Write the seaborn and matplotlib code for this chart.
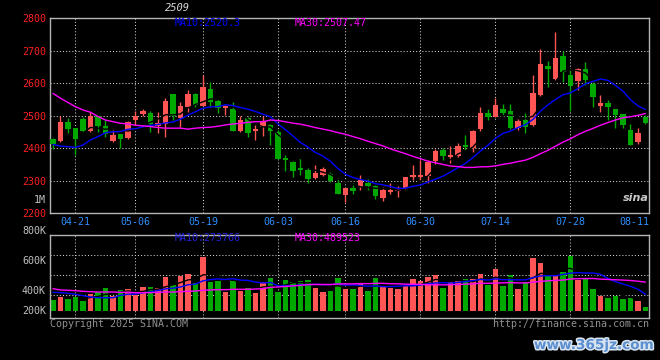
import numpy as np
import pandas as pd
import matplotlib
matplotlib.use("Agg")
import matplotlib.pyplot as plt
import matplotlib.patheffects as pe
import seaborn as sns

sns.set_theme(style="dark")
plt.rcParams["font.family"] = ["DejaVu Sans Mono", "DejaVu Sans"]

# daily candles, contract 2509 (80 trading days, 04-16 .. 08-11)
opens = [2428, 2422, 2480, 2461, 2488, 2452, 2497, 2468, 2423, 2443,
         2431, 2486, 2504, 2509, 2469, 2474, 2566, 2491, 2525, 2566,
         2530, 2582, 2545, 2524, 2519, 2452, 2492, 2451, 2464, 2471,
         2450, 2369, 2357, 2340, 2332, 2309, 2317, 2319, 2293, 2255,
         2276, 2279, 2293, 2283, 2247, 2265, 2267, 2276, 2312, 2312,
         2314, 2361, 2394, 2373, 2375, 2409, 2401, 2458, 2507, 2496,
         2520, 2514, 2463, 2486, 2471, 2563, 2652, 2612, 2683, 2625,
         2606, 2643, 2598, 2529, 2539, 2520, 2505, 2455, 2420, 2495]
highs = [2430, 2498, 2491, 2463, 2494, 2512, 2498, 2486, 2455, 2444,
         2482, 2515, 2520, 2515, 2512, 2553, 2567, 2542, 2579, 2568,
         2625, 2603, 2550, 2532, 2542, 2499, 2494, 2471, 2499, 2473,
         2455, 2379, 2360, 2369, 2341, 2348, 2341, 2327, 2307, 2277,
         2293, 2317, 2304, 2285, 2279, 2291, 2283, 2312, 2348, 2363,
         2362, 2397, 2399, 2406, 2414, 2440, 2455, 2527, 2520, 2553,
         2535, 2535, 2489, 2507, 2625, 2705, 2668, 2758, 2700, 2640,
         2647, 2664, 2604, 2563, 2548, 2521, 2506, 2474, 2461, 2501]
lows = [2396, 2418, 2447, 2380, 2450, 2450, 2450, 2433, 2420, 2399,
        2428, 2471, 2498, 2450, 2447, 2435, 2486, 2466, 2512, 2525,
        2528, 2530, 2509, 2502, 2452, 2449, 2435, 2425, 2438, 2409,
        2366, 2330, 2310, 2317, 2291, 2306, 2315, 2295, 2257, 2235,
        2260, 2271, 2271, 2243, 2238, 2258, 2250, 2274, 2302, 2301,
        2291, 2351, 2363, 2355, 2371, 2394, 2389, 2452, 2486, 2494,
        2497, 2458, 2455, 2447, 2468, 2560, 2589, 2610, 2604, 2515,
        2579, 2594, 2527, 2512, 2486, 2461, 2462, 2408, 2411, 2474]
closes = [2411, 2480, 2459, 2428, 2452, 2497, 2469, 2442, 2441, 2428,
          2480, 2499, 2515, 2474, 2478, 2546, 2497, 2529, 2566, 2532,
          2587, 2541, 2524, 2530, 2453, 2486, 2447, 2457, 2482, 2453,
          2366, 2364, 2330, 2333, 2306, 2324, 2334, 2297, 2259, 2276,
          2269, 2302, 2283, 2252, 2271, 2271, 2271, 2310, 2317, 2317,
          2358, 2391, 2375, 2379, 2406, 2403, 2452, 2509, 2494, 2532,
          2509, 2463, 2483, 2466, 2569, 2659, 2643, 2677, 2635, 2592,
          2642, 2609, 2558, 2539, 2527, 2502, 2471, 2409, 2447, 2478]
# volume, thousands of lots
volumes = [184, 239, 200, 239, 165, 284, 324, 384, 251, 351,
           366, 266, 401, 401, 384, 568, 434, 590, 616, 466,
           908, 484, 501, 316, 501, 339, 384, 301, 484, 551,
           324, 518, 484, 501, 518, 384, 316, 339, 551, 374,
           366, 451, 339, 551, 401, 389, 366, 434, 534, 501,
           566, 601, 389, 484, 501, 534, 534, 616, 439, 701,
           424, 601, 366, 484, 885, 802, 585, 601, 651, 919,
           518, 534, 366, 251, 215, 251, 200, 215, 167, 67]

# moving averages at the left edge (they use days before the window)
ma10_head = [2411, 2406, 2404, 2402, 2409, 2425, 2435, 2447, 2450]
ma30_head = [2568, 2553, 2540, 2527, 2517, 2510, 2497, 2486, 2481, 2476,
             2474, 2470, 2468, 2466, 2463, 2461, 2461, 2461, 2458, 2461,
             2463, 2464, 2467, 2471, 2474, 2476, 2479, 2481, 2481]
vol_ma10_head = [312, 306, 296, 279, 256, 234, 222, 222, 222]
vol_ma30_head = [372, 351, 346, 339, 329, 322, 317, 317, 317, 312,
                 312, 306, 306, 306, 312, 317, 317, 322, 329, 334,
                 346, 351, 356, 356, 362, 362, 362, 367, 372]

tick_idx = [3, 11, 20, 30, 39, 49, 59, 69]
tick_labels = ["04-21", "05-06", "05-19", "06-03", "06-16", "06-30", "07-14", "07-28"]
last_label = "08-11"
price_ticks = [2200, 2300, 2400, 2500, 2600, 2700, 2800]
vol_labels = ["1M", "800K", "600K", "400K", "200K"]

title = "2509"
ma_texts = ["MA10:2520.3", "MA30:2507.47"]
vol_ma_texts = ["MA10:273766", "MA30:489523"]

RED, GREEN = "#ff5555", "#00a800"
BLUE, MAGENTA = "#0000ff", "#ff00ff"
GRID = dict(color="#d0d0d0", linestyle=(0, (1, 2)), linewidth=0.75)

df = pd.DataFrame({"o": opens, "h": highs, "l": lows, "c": closes, "v": volumes})
df["x"] = np.arange(len(df))
df["col"] = np.where(df.c >= df.o, RED, GREEN)

ma5 = df.c.rolling(5).mean()
ma10 = df.c.rolling(10).mean()
ma10.iloc[:9] = ma10_head
ma30 = df.c.rolling(30).mean()
ma30.iloc[:29] = ma30_head
vma5 = df.v.rolling(5).mean()
vma10 = df.v.rolling(10).mean()
vma10.iloc[:9] = vol_ma10_head
vma30 = df.v.rolling(30).mean()
vma30.iloc[:29] = vol_ma30_head

W, H = 660, 360


def box(l, t, r, b):
    return [l / W, 1 - b / H, (r - l) / W, (b - t) / H]


fig = plt.figure(figsize=(6.6, 3.6), dpi=100, facecolor="black")
ax = fig.add_axes(box(50, 18, 649, 213))
axv = fig.add_axes(box(50, 234.7, 649, 318), sharex=ax)

for a in (ax, axv):
    a.set_facecolor("black")
    for s in a.spines.values():
        s.set_color("#b4b4b4")
        s.set_linewidth(1)
    a.tick_params(length=0)
    a.set_xticks(tick_idx)
    a.grid(True, **GRID)
    a.set_axisbelow(True)

# candles
body = (df.c - df.o).abs().clip(lower=2)
ax.vlines(df.x, df.l, df.h, colors=df.col, linewidth=1, zorder=2)
ax.bar(df.x, body, bottom=df[["o", "c"]].min(axis=1), width=0.76,
       color=df.col, linewidth=0, zorder=3)
sns.lineplot(x=df.x, y=ma5, ax=ax, color="black", linewidth=1, zorder=4)
sns.lineplot(x=df.x, y=ma10, ax=ax, color=BLUE, linewidth=1, zorder=5)
sns.lineplot(x=df.x, y=ma30, ax=ax, color=MAGENTA, linewidth=1, zorder=5)

ax.set_xlim(-0.4, 79.47)
ax.set_ylim(2200, 2800)
ax.set_yticks(price_ticks)
ax.set_yticklabels([str(p) for p in price_ticks])
ax.set_xticklabels(tick_labels)
ax.tick_params(axis="y", colors="#ff2020", labelsize=7.2, pad=3)
ax.tick_params(axis="x", colors="#2f8fff", labelsize=7.2, pad=3)
ax.set_xlabel("")
ax.set_ylabel("")
ax.text(1.0, -0.02, last_label, transform=ax.transAxes, ha="right", va="top",
        color="#2f8fff", fontsize=7.2)

# volume
axv.bar(df.x, df.v, width=0.76, color=df.col, linewidth=0, zorder=2)
sns.lineplot(x=df.x, y=vma5, ax=axv, color="black", linewidth=1, zorder=4)
sns.lineplot(x=df.x, y=vma10, ax=axv, color=BLUE, linewidth=1, zorder=5)
sns.lineplot(x=df.x, y=vma30, ax=axv, color=MAGENTA, linewidth=1, zorder=5)
axv.set_ylim(-117, 1274)
axv.set_yticks([935, 601, 267])
axv.tick_params(labelbottom=False, labelleft=False)
axv.set_xlabel("")
axv.set_ylabel("")

# sina places the volume labels on its own grid
for lab, ypx in zip(vol_labels, [200, 231, 261, 291, 311]):
    fig.text(46 / W, 1 - ypx / H, lab, ha="right", va="center",
             color="#c0c0c0", fontsize=7.2)

fig.text(177 / W, 1 - 8 / H, title, ha="center", va="center",
         color="#d8d8d8", fontsize=7.5, style="italic")
fig.text(175 / W, 1 - 23.5 / H, ma_texts[0], va="center", color=BLUE, fontsize=7.2)
fig.text(295 / W, 1 - 23.5 / H, ma_texts[1], va="center", color=MAGENTA, fontsize=7.2)
fig.text(175 / W, 1 - 238 / H, vol_ma_texts[0], va="center", color="#2222dd", fontsize=7.2)
fig.text(295 / W, 1 - 238 / H, vol_ma_texts[1], va="center", color=MAGENTA, fontsize=7.2)

fig.text(50 / W, 1 - 324 / H, "Copyright 2025 SINA.COM", va="center",
         color="#909090", fontsize=7.2)
fig.text(649 / W, 1 - 324 / H, "http://finance.sina.com.cn", ha="right",
         va="center", color="#909090", fontsize=7.2)
fig.text(636 / W, 1 - 198 / H, "sina", ha="center", va="center", color="#c8c8c8",
         fontsize=8, weight="bold", style="italic", family="DejaVu Sans")
fig.text(594 / W, 1 - 345 / H, "www.365jz.com", ha="center", va="center",
         color="#5b8fd0", fontsize=9.8, weight="bold", family="DejaVu Sans",
         path_effects=[pe.withStroke(linewidth=2.2, foreground="#d8e4f0")])

fig.savefig("out.png", dpi=100, facecolor="black")
